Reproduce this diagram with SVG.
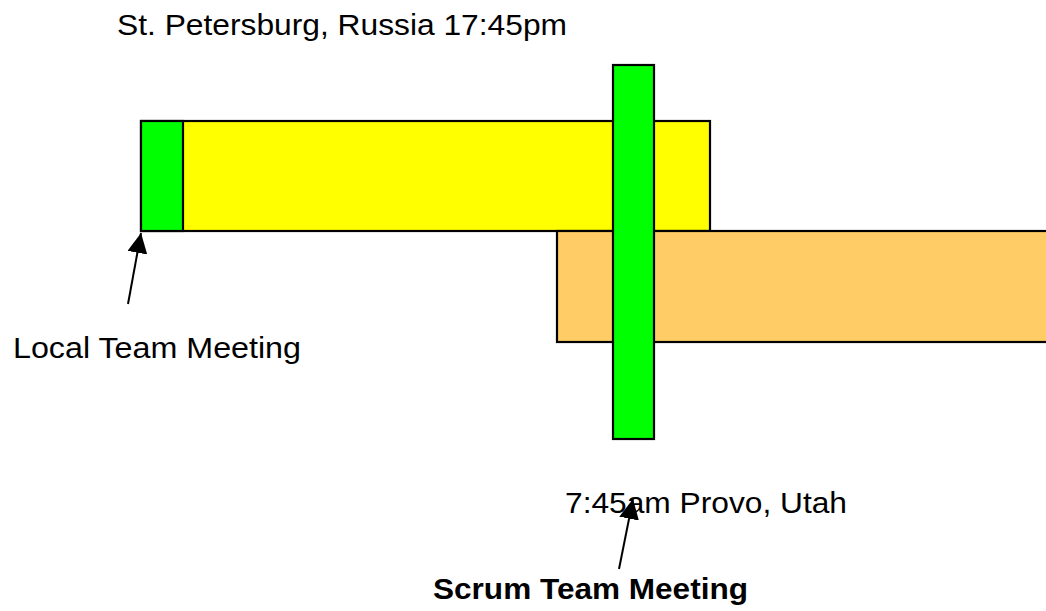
<svg xmlns="http://www.w3.org/2000/svg" width="1046" height="611" viewBox="0 0 1046 611">
<style>
.box{stroke:#000;stroke-width:2.2}
.lbl{font-family:"Liberation Sans",Arial,sans-serif;font-size:29px;fill:#000}
.bold{font-weight:bold}
.conn{stroke:#000;stroke-width:2;fill:none}
</style>
<defs>
<marker id="ah" viewBox="0 0 20 20" refX="20" refY="10" markerWidth="20" markerHeight="20" markerUnits="userSpaceOnUse" orient="auto">
<path d="M0,0 L20,10 L0,20 z" fill="#000"/>
</marker>
</defs>
<rect width="1046" height="611" fill="#fff"/>
<g id="st-petersburg-bar"><rect class="box" x="141" y="121" width="569" height="110" fill="#FFFF00"/></g>
<g id="local-meeting"><rect class="box" x="141" y="121" width="42" height="110" fill="#00FF00"/></g>
<g id="provo-bar"><rect class="box" x="557" y="231" width="500" height="111" fill="#FFCC66"/></g>
<g id="scrum-meeting"><rect class="box" x="613" y="65" width="41" height="374" fill="#00FF00"/></g>
<g id="labels">
<text class="lbl" x="117" y="35" textLength="450" lengthAdjust="spacingAndGlyphs">St. Petersburg, Russia 17:45pm</text>
<text class="lbl" x="13" y="358" textLength="288" lengthAdjust="spacingAndGlyphs">Local Team Meeting</text>
<text class="lbl" x="565" y="513" textLength="282" lengthAdjust="spacingAndGlyphs">7:45am Provo, Utah</text>
<text class="lbl bold" x="433" y="599" textLength="315" lengthAdjust="spacingAndGlyphs">Scrum Team Meeting</text>
</g>
<g id="connectors">
<line class="conn" x1="128" y1="304" x2="141" y2="233" marker-end="url(#ah)"/>
<line class="conn" x1="619" y1="569" x2="633" y2="499" marker-end="url(#ah)"/>
</g>
</svg>
